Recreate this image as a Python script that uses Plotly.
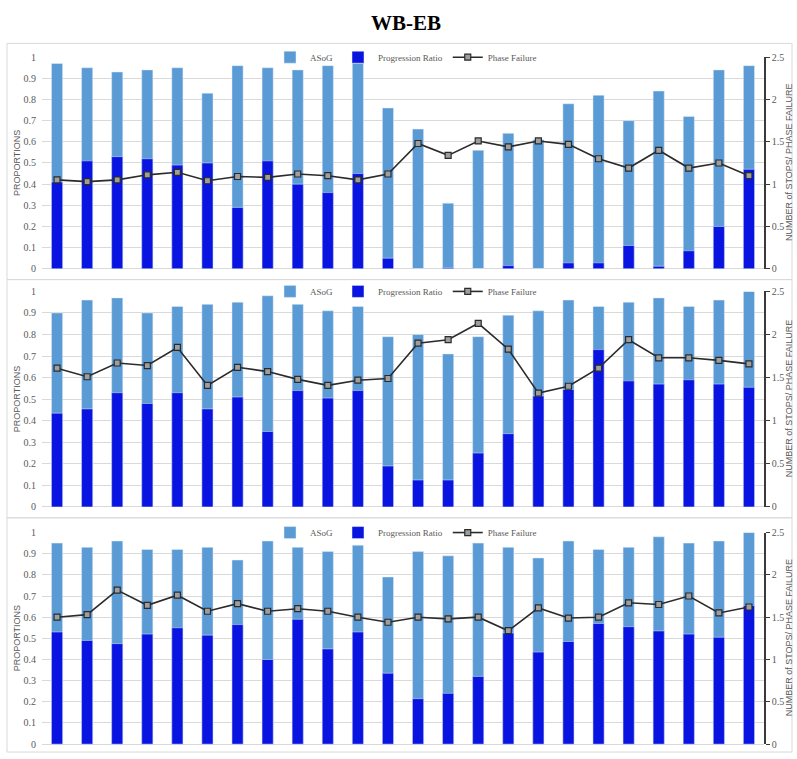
import plotly.graph_objects as go

# ---- data -----------------------------------------------------------------
cycles = list(range(1, 25))

asog_1 = [0.97, 0.95, 0.93, 0.94, 0.95, 0.83, 0.96, 0.95, 0.94, 0.96, 0.97, 0.76,
          0.66, 0.31, 0.56, 0.64, 0.61, 0.78, 0.82, 0.70, 0.84, 0.72, 0.94, 0.96]
progression_1 = [0.41, 0.51, 0.53, 0.52, 0.49, 0.50, 0.29, 0.51, 0.40, 0.36, 0.45, 0.05,
                 0.0, 0.005, 0.0, 0.015, 0.0, 0.028, 0.028, 0.11, 0.012, 0.085, 0.20, 0.47]
phase_failure_1 = [1.05, 1.03, 1.05, 1.11, 1.14, 1.04, 1.09, 1.08, 1.12, 1.10, 1.05, 1.12,
                   1.48, 1.34, 1.51, 1.44, 1.51, 1.47, 1.30, 1.19, 1.40, 1.19, 1.25, 1.10]

asog_2 = [0.90, 0.96, 0.97, 0.90, 0.93, 0.94, 0.95, 0.98, 0.94, 0.91, 0.93, 0.79,
          0.80, 0.71, 0.79, 0.89, 0.91, 0.96, 0.93, 0.95, 0.97, 0.93, 0.96, 1.00]
progression_2 = [0.435, 0.455, 0.53, 0.48, 0.53, 0.455, 0.51, 0.35, 0.54, 0.505, 0.54, 0.19,
                 0.125, 0.125, 0.25, 0.34, 0.515, 0.545, 0.73, 0.585, 0.57, 0.59, 0.57, 0.555]
phase_failure_2 = [1.61, 1.51, 1.67, 1.64, 1.85, 1.41, 1.62, 1.57, 1.48, 1.41, 1.47, 1.49,
                   1.90, 1.94, 2.13, 1.83, 1.32, 1.40, 1.61, 1.94, 1.73, 1.73, 1.70, 1.66]

asog_3 = [0.95, 0.93, 0.96, 0.92, 0.92, 0.93, 0.87, 0.96, 0.93, 0.91, 0.94, 0.79,
          0.91, 0.89, 0.95, 0.93, 0.88, 0.96, 0.92, 0.93, 0.98, 0.95, 0.96, 1.00]
progression_3 = [0.53, 0.49, 0.475, 0.52, 0.55, 0.515, 0.565, 0.40, 0.59, 0.45, 0.53, 0.335,
                 0.215, 0.24, 0.32, 0.525, 0.435, 0.485, 0.57, 0.555, 0.535, 0.52, 0.505, 0.655]
phase_failure_3 = [1.50, 1.53, 1.82, 1.64, 1.76, 1.57, 1.66, 1.57, 1.60, 1.57, 1.50, 1.44,
                   1.50, 1.48, 1.50, 1.34, 1.61, 1.49, 1.50, 1.67, 1.65, 1.75, 1.55, 1.62]

prop_ticks = [0, 0.1, 0.2, 0.3, 0.4, 0.5, 0.6, 0.7, 0.8, 0.9, 1]
prop_labels = ["0", "0.1", "0.2", "0.3", "0.4", "0.5", "0.6", "0.7", "0.8", "0.9", "1"]
stop_ticks = [0, 0.5, 1, 1.5, 2, 2.5]
stop_labels = ["0", "0.5", "1", "1.5", "2", "2.5"]

panels = [
    (asog_1, progression_1, phase_failure_1),
    (asog_2, progression_2, phase_failure_2),
    (asog_3, progression_3, phase_failure_3),
]

# ---- styling / geometry ---------------------------------------------------
W, H = 797, 759
ASOG_COLOR = "#5B9BD5"
PR_COLOR = "#0A14E0"
LINE_COLOR = "#2b2b2b"
GRID = "#d9d9d9"
TEXT = "#595959"
SERIF = "Liberation Serif, DejaVu Serif, serif"
SANS = "Liberation Sans, Arial, sans-serif"


def px_x(x):
    return x / W


def px_y(y):
    return 1 - y / H


plot_left, plot_right = 42, 764
# (top of the 1.0 gridline, baseline, frame top, frame bottom) in pixels
panel_rows = [(52, 267, 38, 278), (290, 509, 278, 520), (535, 750, 520, 758)]

fig = go.Figure()
layout = dict(
    width=W, height=H,
    margin=dict(l=0, r=0, t=0, b=0),
    paper_bgcolor="white", plot_bgcolor="white",
    barmode="overlay",
    showlegend=True,
    annotations=[], shapes=[],
)

for i, (asog, prog, pf) in enumerate(panels):
    n = i + 1
    xname = "x" if n == 1 else f"x{n}"
    yl_idx = 2 * i + 1
    yr_idx = 2 * i + 2
    yl = "y" if yl_idx == 1 else f"y{yl_idx}"
    yr = f"y{yr_idx}"
    leg = "legend" if n == 1 else f"legend{n}"

    fig.add_trace(go.Bar(
        x=cycles, y=asog, name="ASoG", marker_color=ASOG_COLOR, width=0.37,
        xaxis=xname, yaxis=yl, legend=leg,
    ))
    fig.add_trace(go.Bar(
        x=cycles, y=prog, name="Progression Ratio", marker_color=PR_COLOR, width=0.37,
        xaxis=xname, yaxis=yl, legend=leg,
    ))
    fig.add_trace(go.Scatter(
        x=cycles, y=pf, name="Phase Failure", mode="lines+markers",
        line=dict(color=LINE_COLOR, width=1.6),
        marker=dict(symbol="square", size=6, color="#9e9e9e",
                    line=dict(color=LINE_COLOR, width=1.2)),
        xaxis=xname, yaxis=yr, legend=leg,
    ))

    top, base, ftop, fbot = panel_rows[i]
    ydom = [px_y(base), px_y(top)]

    layout["xaxis" if n == 1 else f"xaxis{n}"] = dict(
        domain=[px_x(plot_left), px_x(plot_right)], range=[0.5, 24.5],
        anchor=yl, showticklabels=False, ticks="", showgrid=False,
        showline=False, zeroline=False, fixedrange=True,
    )
    layout["yaxis" if yl_idx == 1 else f"yaxis{yl_idx}"] = dict(
        domain=ydom, range=[0, 1], anchor=xname,
        tickvals=prop_ticks, ticktext=prop_labels,
        tickfont=dict(family=SERIF, size=10, color=TEXT),
        ticklabelstandoff=5,
        showgrid=True, gridcolor=GRID, gridwidth=1,
        zeroline=True, zerolinecolor=GRID, zerolinewidth=1,
        showline=False, ticks="",
    )
    layout[f"yaxis{yr_idx}"] = dict(
        domain=ydom, range=[0, 2.5], anchor=xname, overlaying=yl, side="right",
        tickvals=stop_ticks, ticktext=stop_labels,
        tickfont=dict(family=SERIF, size=10, color=TEXT),
        showgrid=False, zeroline=False,
        showline=True, linecolor="#3a3a3a", linewidth=1.5,
        ticks="outside", ticklen=4, tickcolor="#3a3a3a", tickwidth=1,
    )
    layout[leg] = dict(
        orientation="h", x=px_x(406), xanchor="center",
        y=px_y(top), yanchor="middle",
        bgcolor="rgba(0,0,0,0)",
        font=dict(family=SERIF, size=9, color=TEXT),
        itemwidth=30, tracegroupgap=0,
    )

    mid = (top + base) / 2
    layout["annotations"].append(dict(
        text="PROPORTIONS", x=px_x(17), y=px_y(mid), xref="paper", yref="paper",
        textangle=-90, showarrow=False, xanchor="center", yanchor="middle",
        font=dict(family=SANS, size=9, color=TEXT),
    ))
    layout["annotations"].append(dict(
        text="NUMBER of STOPS/ PHASE FAILURE", x=px_x(789), y=px_y(mid),
        xref="paper", yref="paper", textangle=-90, showarrow=False,
        xanchor="center", yanchor="middle",
        font=dict(family=SANS, size=9, color=TEXT),
    ))
    layout["shapes"].append(dict(
        type="rect", xref="paper", yref="paper",
        x0=px_x(7), x1=px_x(792), y0=px_y(fbot), y1=px_y(ftop),
        line=dict(color=GRID, width=1), fillcolor="rgba(0,0,0,0)", layer="below",
    ))

layout["annotations"].append(dict(
    text="<b>WB-EB</b>", x=px_x(406), y=px_y(17), xref="paper", yref="paper",
    showarrow=False, xanchor="center", yanchor="middle",
    font=dict(family=SERIF, size=21, color="black"),
))

fig.update_layout(**layout)
fig.write_html("out.html")
